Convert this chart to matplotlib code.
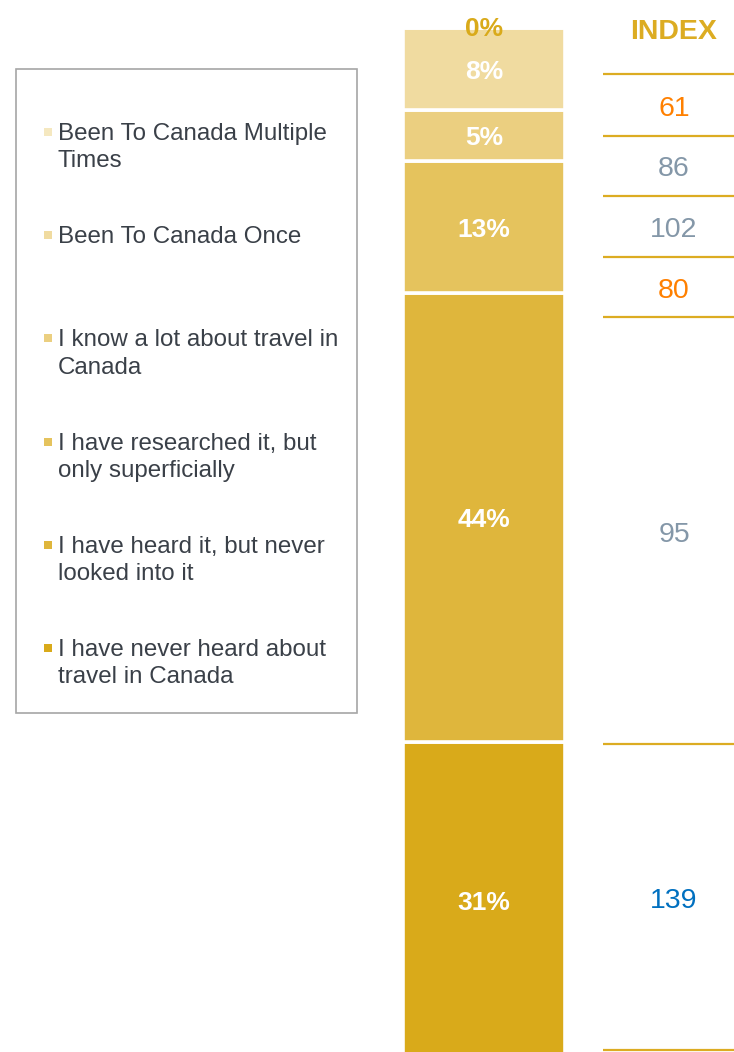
import numpy as np
from matplotlib import pyplot as plt
from matplotlib.patches import Rectangle

plt.rcParams['font.family'] = ['Liberation Sans', 'DejaVu Sans']

# categories, bottom of the bar first
categories = ["I have never heard about\ntravel in Canada",
              "I have heard it, but never\nlooked into it",
              "I have researched it, but\nonly superficially",
              "I know a lot about travel in\nCanada",
              "Been To Canada Once",
              "Been To Canada Multiple\nTimes"]
shares = [31, 44, 13, 5, 8, 0]
index_vals = [139, 95, 80, 102, 86, 61]
colors = ["#d9aa1a", "#dfb63c", "#e5c35d", "#ebcf80", "#f0dba0", "#f5e8c0"]

W, H = 734, 1052
fig = plt.figure(figsize=(W / 100, H / 100), dpi=100)

# stacked bar (runs a little past the bottom edge, as in the source)
bar_h = 1030
ax = fig.add_axes([403 / W, (H - 28 - bar_h) / H, 162 / W, bar_h / H])
bottoms = np.concatenate([[0], np.cumsum(shares)[:-1]])
ax.bar([0] * len(shares), shares, bottom=bottoms, width=1, color=colors,
       edgecolor="white", linewidth=2.6)
ax.set_xlim(-0.5, 0.5)
ax.set_ylim(0, sum(shares))
ax.axis("off")
for b, s in zip(bottoms, shares):
    if s > 0:
        ax.annotate(f"{s}%", (0, b + s / 2), xytext=(0, -2), textcoords="offset points",
                    ha="center", va="center", color="white",
                    fontsize=19, fontweight="bold")
    else:
        ax.annotate(f"{s}%", (0, b), xytext=(0, -1), textcoords="offset points",
                    ha="center", va="center", color="#d9aa1a",
                    fontsize=19, fontweight="bold", annotation_clip=False)

# index column (pixel layout, top to bottom)
lay = fig.add_axes([0, 0, 1, 1])
lay.set_xlim(0, W)
lay.set_ylim(H, 0)
lay.axis("off")
lay.patch.set_alpha(0)

row_edges = [74, 136, 196, 257, 317, 744, 1050]
for y in row_edges:
    lay.plot([603, 734], [y, y], color="#dcac22", lw=1.6, solid_capstyle="butt")

def idx_color(v):
    if v < 85:
        return "#ff8000"
    if v > 115:
        return "#0070c0"
    return "#8497a8"

for i, v in enumerate(index_vals[::-1]):
    yc = (row_edges[i] + row_edges[i + 1]) / 2
    if i == 4:
        yc = 531
    lay.text(674, yc + 3.5, str(v), ha="center", va="center", fontsize=20.5,
             color=idx_color(v))
lay.text(674, 32, "INDEX", ha="center", va="center", fontsize=20.5,
         fontweight="bold", color="#dcac22")

# legend box
lay.add_patch(Rectangle((16, 69), 341, 644, fill=False, edgecolor="#a6a6a6", lw=1.2))
for i, (lab, c) in enumerate(zip(categories[::-1], colors[::-1])):
    y0 = 132 + 103.2 * i
    lay.add_patch(Rectangle((44, y0 - 4), 8, 8, facecolor=c, edgecolor="none"))
    lay.text(58, y0 - 9, lab, ha="left", va="top", fontsize=17.4,
             color="#3a4048", linespacing=1.32)

fig.savefig("out.png", dpi=100)
